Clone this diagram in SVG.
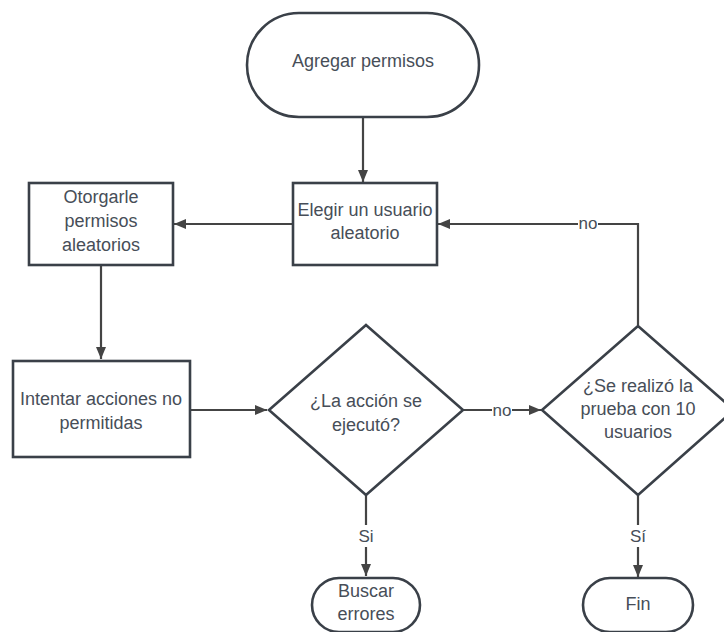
<svg xmlns="http://www.w3.org/2000/svg" width="724" height="632" viewBox="0 0 724 632">
<style>
.n{fill:#fff;stroke:#3a4048;stroke-width:2.6}
.t{font-family:"Liberation Sans",Arial,sans-serif;font-size:18px;fill:#474e58;text-anchor:middle}
.l{font-family:"Liberation Sans",Arial,sans-serif;font-size:17px;fill:#474e58;text-anchor:middle}
.c{fill:none;stroke:#444;stroke-width:2.2}
</style>
<defs>
<marker id="a" markerWidth="12" markerHeight="10" refX="12" refY="5" orient="auto" markerUnits="userSpaceOnUse">
<path d="M0,0 L12,5 L0,10 Z" fill="#444"/>
</marker>
</defs>
<rect width="724" height="632" fill="#fff"/>
<g id="connectors">
<path class="c" d="M363,118 V182" marker-end="url(#a)"/>
<path class="c" d="M293,224 H174" marker-end="url(#a)"/>
<path class="c" d="M101,265 V359" marker-end="url(#a)"/>
<path class="c" d="M190,410 H267" marker-end="url(#a)"/>
<path class="c" d="M463,410 H541" marker-end="url(#a)"/>
<path class="c" d="M638,325 V224 H438" marker-end="url(#a)"/>
<path class="c" d="M366,495 V576" marker-end="url(#a)"/>
<path class="c" d="M638,495 V577" marker-end="url(#a)"/>
<rect x="492" y="400" width="20" height="20" fill="#fff"/>
<text class="l" x="502" y="416">no</text>
<rect x="578" y="214" width="20" height="20" fill="#fff"/>
<text class="l" x="588" y="229">no</text>
<rect x="355" y="525" width="22" height="22" fill="#fff"/>
<text class="l" x="366" y="542">Si</text>
<rect x="627" y="525" width="22" height="22" fill="#fff"/>
<text class="l" x="638" y="542">Sí</text>
</g>
<g id="start">
<rect class="n" x="247" y="13" width="232" height="104" rx="52"/>
<text class="t" x="363" y="67">Agregar permisos</text>
</g>
<g id="elegir">
<rect class="n" x="293" y="183" width="144" height="82"/>
<text class="t" x="365" y="216">Elegir un usuario</text>
<text class="t" x="365" y="239">aleatorio</text>
</g>
<g id="otorgar">
<rect class="n" x="29" y="183" width="144" height="82"/>
<text class="t" x="101" y="203">Otorgarle</text>
<text class="t" x="101" y="227">permisos</text>
<text class="t" x="101" y="251">aleatorios</text>
</g>
<g id="intentar">
<rect class="n" x="13" y="361" width="177" height="96"/>
<text class="t" x="101" y="405">Intentar acciones no</text>
<text class="t" x="101" y="429">permitidas</text>
</g>
<g id="decision1">
<polygon class="n" points="366,325 463,410 366,495 269,410"/>
<text class="t" x="366" y="407">¿La acción se</text>
<text class="t" x="366" y="431">ejecutó?</text>
</g>
<g id="decision2">
<polygon class="n" points="638,326 734,410 638,495 542,410"/>
<text class="t" x="638" y="392">¿Se realizó la</text>
<text class="t" x="638" y="415">prueba con 10</text>
<text class="t" x="638" y="438">usuarios</text>
</g>
<g id="buscar">
<rect class="n" x="312" y="578" width="108" height="54" rx="27"/>
<text class="t" x="366" y="597">Buscar</text>
<text class="t" x="366" y="620">errores</text>
</g>
<g id="fin">
<rect class="n" x="583" y="578" width="110" height="54" rx="27"/>
<text class="t" x="638" y="610">Fin</text>
</g>
</svg>
